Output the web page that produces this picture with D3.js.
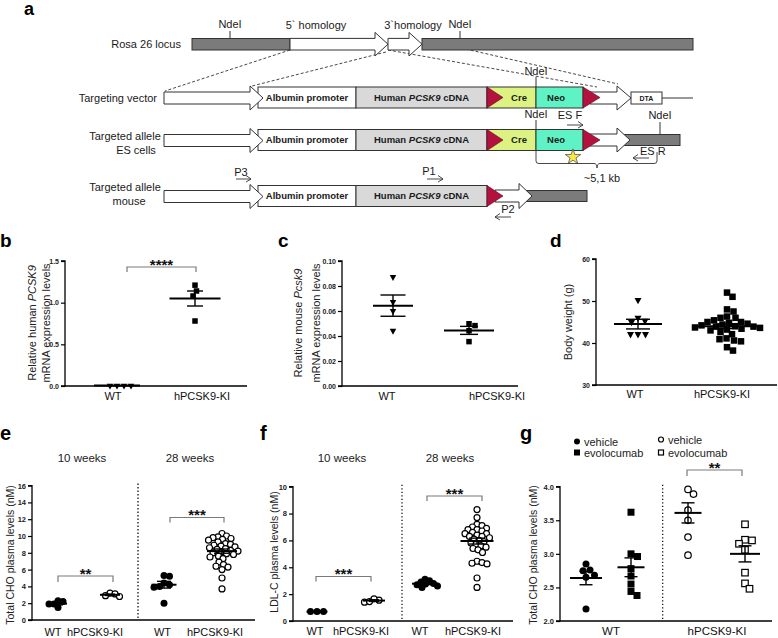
<!DOCTYPE html>
<html><head><meta charset="utf-8">
<script src="https://cdn.jsdelivr.net/npm/d3@7"></script>
<style>body{margin:0;background:#fff}svg{display:block;font-family:"Liberation Sans",Arial,Helvetica,sans-serif}</style>
</head><body><svg id="chart" width="778" height="638"></svg>
<script>
// ================= DATA =================
const bCategories = ["WT", "hPCSK9-KI"];
const bWT = [0.005, 0.005, 0.005, 0.005];
const bKI = [1.14, 1.21, 1.08, 0.78];
const bMean = [0.005, 1.05];
const bSem = [0, 0.09];
const bTicks = [0, 0.5, 1.0, 1.5];

const cCategories = ["WT", "hPCSK9-KI"];
const cWT = [0.0872, 0.0672, 0.0600, 0.0442];
const cKI = [0.0483, 0.0498, 0.0442, 0.0355];
const cMean = [0.0643, 0.0445];
const cSem = [0.0085, 0.0032];
const cTicks = [0, 0.02, 0.04, 0.06, 0.08, 0.10];

const dCategories = ["WT", "hPCSK9-KI"];
const dWT = [50.2, 46.0, 45.3, 45.0, 42.1, 42.1, 42.1];
const dKI = [52.0, 51.0, 48.0, 47.5, 46.3, 46.0, 46.0, 45.4, 45.0, 45.0, 44.8, 44.6, 44.4, 44.2, 44.0,
             43.9, 43.9, 43.7, 43.6, 43.4, 43.2, 43.0, 42.6, 42.1, 41.1, 40.9, 40.6, 40.4, 39.0, 38.2];
const dMean = [44.5, 44.0];
const dSem = [1.15, 0.55];
const dTicks = [30, 40, 50, 60];

const eWeeks = ["10 weeks", "28 weeks"];
const eCategories = ["WT", "hPCSK9-KI", "WT", "hPCSK9-KI"];
const e10WT = [2.3, 2.2, 1.9, 1.9, 1.5];
const e10KI = [3.2, 3.1, 2.9, 2.8];
const e28WT = [5.3, 5.2, 4.4, 4.2, 4.0, 3.9, 2.0];
const e28KI = [10.3, 10.0, 9.9, 9.8, 9.7, 9.6, 9.5, 9.3, 9.1, 9.0, 8.9, 8.8, 8.7, 8.6, 8.5, 8.4,
               8.3, 8.2, 8.1, 8.0, 7.9, 7.8, 7.6, 7.5, 7.3, 6.9, 6.6, 6.4, 6.3, 6.0, 5.0, 3.7];
const eMean = [1.95, 3.0, 4.2, 8.2];
const eSem = [0.15, 0.08, 0.4, 0.25];
const eTicks = [0, 2, 4, 6, 8, 10, 12, 14, 16];

const fWeeks = ["10 weeks", "28 weeks"];
const fCategories = ["WT", "hPCSK9-KI", "WT", "hPCSK9-KI"];
const f10WT = [0.7, 0.7, 0.7];
const f10KI = [1.4, 1.55, 1.65, 1.45];
const f28WT = [3.1, 3.0, 2.9, 2.8, 2.75, 2.7, 2.6, 2.5];
const f28KI = [8.3, 7.7, 7.2, 7.1, 7.0, 6.9, 6.8, 6.8, 6.7, 6.6, 6.5, 6.5, 6.4, 6.3, 6.3, 6.2,
               6.1, 6.0, 5.9, 5.8, 5.7, 5.6, 5.5, 5.4, 5.3, 5.1, 4.45, 4.35, 4.3, 4.25, 3.2, 2.5];
const fMean = [0.7, 1.52, 2.78, 5.95];
const fSem = [0.01, 0.06, 0.07, 0.22];
const fTicks = [0, 2, 4, 6, 8, 10];

const gGenotypes = ["WT", "hPCSK9-KI"];
const gTreatments = ["vehicle", "evolocumab"];
const gWTveh = [2.85, 2.76, 2.75, 2.68, 2.65, 2.18];
const gWTevo = [3.62, 3.0, 2.96, 2.78, 2.67, 2.55, 2.44, 2.38];
const gKIveh = [3.96, 3.89, 3.65, 3.5, 3.25, 2.98];
const gKIevo = [3.44, 3.21, 3.2, 3.15, 3.06, 2.72, 2.56, 2.48];
const gMean = [2.64, 2.8, 3.61, 3.0];
const gSem = [0.1, 0.14, 0.15, 0.12];
const gTicks = [2.0, 2.5, 3.0, 3.5, 4.0];

// ================= HELPERS =================
const svg = d3.select('#chart');
svg.append('rect').attr('width', 778).attr('height', 638).attr('fill', '#fff');
const TXT = '#1a1a1a';

function text(g, x, y, s, o = {}) {
  const t = g.append('text').attr('x', x).attr('y', y).attr('font-size', o.size || 11)
    .attr('text-anchor', o.anchor || 'middle').attr('fill', o.fill || TXT);
  if (o.bold) t.attr('font-weight', 'bold');
  if (Array.isArray(s)) {
    s.forEach(p => { const [str, it] = Array.isArray(p) ? p : [p, false];
      t.append('tspan').text(str).attr('font-style', it ? 'italic' : null); });
  } else t.text(s);
  return t;
}
function line(g, x1, y1, x2, y2, o = {}) {
  return g.append('line').attr('x1', x1).attr('y1', y1).attr('x2', x2).attr('y2', y2)
    .attr('stroke', o.stroke || '#000').attr('stroke-width', o.w || 1)
    .attr('stroke-dasharray', o.dash || null);
}
function panelLetter(s, x, y, size) { text(svg, x, y, s, {size: size || 19, bold: true, anchor: 'start', fill: '#000'}); }

// ================= PANEL a =================
const A = svg.append('g');
const COL = {gray: '#7b7b7b', pcsk9: '#d9d9d9', cre: '#dcf282', neo: '#5ff2c4', lox: '#b3123f', star: '#f7e84a'};
const STK = '#333';
function arrowPath(x0, x1, yc, bh, hh, hl) {
  return `M${x0},${yc - bh}H${x1 - hl}V${yc - hh}L${x1},${yc}L${x1 - hl},${yc + hh}V${yc + bh}H${x0}Z`;
}
function arrow(x0, x1, yc, bh = 6, hh = 12, hl = 13) {
  A.append('path').attr('d', arrowPath(x0, x1, yc, bh, hh, hl)).attr('fill', '#fff').attr('stroke', STK).attr('stroke-width', 1);
}
function box(x0, x1, y0, y1, fill) {
  A.append('rect').attr('x', x0).attr('y', y0).attr('width', x1 - x0).attr('height', y1 - y0)
    .attr('fill', fill).attr('stroke', STK).attr('stroke-width', 1);
}
function lox(x0, x1, y0, y1) {
  A.append('path').attr('d', `M${x0},${y0}L${x1},${(y0 + y1) / 2}L${x0},${y1}Z`).attr('fill', COL.lox).attr('stroke', '#5a0a20').attr('stroke-width', 0.6);
}
function primer(x0, x1, y) { // arrow pointing toward x1
  const dir = x1 > x0 ? 1 : -1;
  line(A, x0, y, x1, y, {stroke: '#333', w: 0.9});
  line(A, x1, y, x1 - dir * 5, y - 3.5, {stroke: '#333', w: 0.9});
  line(A, x1, y, x1 - dir * 5, y + 3, {stroke: '#333', w: 0.9});
}
function cassette(yc, full) {
  const y0 = yc - 10.5, y1 = yc + 10.5;
  box(258, 356, y0, y1, '#fff');
  text(A, 307, yc + 3.3, 'Albumin promoter', {size: 9.5, bold: true});
  box(356, 487, y0, y1, COL.pcsk9);
  text(A, 421.5, yc + 3.3, ['Human ', ['PCSK9', true], ' cDNA'], {size: 9.5, bold: true});
  if (full) {
    box(487, 536, y0, y1, COL.cre);
    text(A, 519, yc + 3.3, 'Cre', {size: 9.5, bold: true});
    box(536, 583, y0, y1, COL.neo);
    text(A, 556, yc + 3.3, 'Neo', {size: 9.5, bold: true});
  }
  arrow(164, 263, yc + 0.5);
}

panelLetter('a', 24, 15, 18);
// dashed homology lines
[[290, 50, 165, 91], [386, 52, 252, 86], [388, 50, 597, 87], [422, 39, 618, 84]].forEach(d =>
  line(A, d[0], d[1], d[2], d[3], {stroke: '#333', w: 0.9, dash: '3,2'}));

// Row 0: Rosa 26 locus
box(192, 290, 38.5, 50, COL.gray);
box(422, 693, 38.5, 50, COL.gray);
arrow(290, 388, 44.2, 5.8, 11.8, 13);
arrow(388, 422, 44.2, 5.8, 11.8, 13);
text(A, 181, 48, 'Rosa 26 locus', {anchor: 'end'});
text(A, 230, 28, 'NdeI'); line(A, 230, 31, 230, 38.5, {stroke: '#333'});
text(A, 316, 29, '5` homology');
text(A, 413, 29, '3`homology');
text(A, 460, 28, 'NdeI'); line(A, 460, 31, 460, 38.5, {stroke: '#333'});

// Row 1: targeting vector
cassette(97.5, true);
arrow(590, 631, 98, 6, 12, 14);
lox(583, 600, 87, 108); lox(487, 503, 87, 108);
box(631, 662, 92, 104, '#fff');
text(A, 646.5, 100.6, 'DTA', {size: 7, bold: true});
line(A, 662, 98, 693, 98, {stroke: '#333'});
text(A, 157, 102, 'Targeting vector', {anchor: 'end'});
text(A, 536, 75, 'NdeI'); line(A, 536, 77, 536, 87, {stroke: '#333'});

// Row 2: targeted allele ES cells
cassette(140, true);
box(617, 680, 134.5, 145.5, COL.gray);
arrow(590, 630, 140, 6, 12, 13);
lox(583, 600, 129.5, 150.5); lox(487, 503, 129.5, 150.5);
text(A, 125, 140, 'Targeted allele'); text(A, 136, 154, 'ES cells');
text(A, 536, 118, 'NdeI'); line(A, 536, 120, 536, 129.5, {stroke: '#333'});
text(A, 570, 119, 'ES F'); primer(567, 583, 125);
text(A, 660, 119, 'NdeI'); line(A, 660, 122, 660, 134.5, {stroke: '#333'});
A.append('path').attr('d', d3.symbol(d3.symbolStar, 75)()).attr('transform', 'translate(573,157)')
  .attr('fill', COL.star).attr('stroke', '#555').attr('stroke-width', 0.8);
A.append('path').attr('d', 'M536,151V161Q536,163.5 539,163.5H594Q597,163.5 597,168Q597,163.5 600,163.5H654Q657,163.5 657,161V152')
  .attr('fill', 'none').attr('stroke', '#333').attr('stroke-width', 0.9);
text(A, 602, 182, '~5,1 kb');
text(A, 640, 155, 'ES R', {anchor: 'start'}); primer(649, 633, 158);

// Row 3: targeted allele mouse
cassette(196, false);
box(519, 587, 190.5, 201.5, COL.gray);
arrow(495, 532, 196, 6, 12.5, 13);
lox(487, 503, 185.5, 206.5);
text(A, 125, 191, 'Targeted allele'); text(A, 129, 204.5, 'mouse');
text(A, 241, 176, 'P3'); primer(236, 251, 179);
text(A, 429, 175, 'P1'); primer(427, 443, 179);
text(A, 508, 213, 'P2'); primer(511, 495, 217);

// ================= DOT PLOT PANELS =================
function marker(g, shape, x, y, s) {
  if (shape === 'circle' || shape === 'circleOpen') {
    g.append('circle').attr('cx', x).attr('cy', y).attr('r', shape === 'circle' ? s / 2 : s / 2 - 0.5)
      .attr('fill', shape === 'circle' ? '#000' : '#fff').attr('stroke', '#000').attr('stroke-width', shape === 'circle' ? 0 : 1.2);
  } else if (shape === 'square' || shape === 'squareOpen') {
    const o = shape === 'square' ? s / 2 : s / 2 - 0.5;
    g.append('rect').attr('x', x - o).attr('y', y - o).attr('width', 2 * o).attr('height', 2 * o)
      .attr('fill', shape === 'square' ? '#000' : '#fff').attr('stroke', '#000').attr('stroke-width', shape === 'square' ? 0 : 1.2);
  } else if (shape === 'triDown') {
    const h = s * 0.9;
    g.append('path').attr('d', `M${x - s / 2},${y - h / 3}L${x + s / 2},${y - h / 3}L${x},${y + 2 * h / 3}Z`).attr('fill', '#000');
  }
}
function swarm(vals, y, dist) {
  const order = d3.range(vals.length).sort((a, b) => d3.descending(vals[a], vals[b]));
  const placed = [], off = new Array(vals.length);
  order.forEach(i => {
    const yy = y(vals[i]);
    for (let k = 0; k < 400; k++) {
      const o = (k % 2 ? 1 : -1) * Math.ceil(k / 2) * 0.5;
      if (placed.every(p => (p.x - o) ** 2 + (p.y - yy) ** 2 >= dist * dist)) {
        placed.push({x: o, y: yy}); off[i] = o; break;
      }
    }
  });
  return off;
}
function dotPanel(cfg) {
  const g = svg.append('g');
  const y = d3.scaleLinear().domain(cfg.domain).range(cfg.range);
  const gx = d3.scaleOrdinal(d3.range(cfg.groups.length), cfg.groupX);
  // axes
  const yAxis = d3.axisLeft(y).tickValues(cfg.ticks).tickFormat(cfg.fmt).tickSize(4).tickPadding(2);
  const ya = g.append('g').attr('transform', `translate(${cfg.axisX},0)`).call(yAxis);
  ya.select('.domain').attr('stroke-width', 1.3).attr('d', `M-4,${cfg.range[0]}H0V${cfg.range[1]}H-4`);
  ya.selectAll('.tick line').attr('stroke-width', 1.2);
  ya.selectAll('.tick text').attr('font-size', cfg.tickFont).attr('font-weight', 'bold').attr('fill', '#222')
    .attr('font-family', '"Liberation Sans",Arial,sans-serif');
  line(g, cfg.axisX, cfg.range[0], cfg.xEnd, cfg.range[0], {w: 1.3});
  (cfg.dividers || []).forEach(dx => line(g, dx, cfg.range[1] - 2, dx, cfg.range[0], {w: 1.2, dash: '1.3,2.2'}));
  // points
  cfg.groups.forEach((gr, i) => {
    const off = swarm(gr.vals, y, gr.dist);
    gr.vals.forEach((v, j) => marker(g, gr.shape, gx(i) + off[j], y(v), gr.size));
  });
  // mean & sem
  cfg.groups.forEach((gr, i) => {
    const cx = gx(i), m = cfg.mean[i], s = cfg.sem[i];
    if (s > 0) {
      line(g, cx, y(m - s), cx, y(m + s), {w: 1.4});
      line(g, cx - gr.sw / 2, y(m + s), cx + gr.sw / 2, y(m + s), {w: 1.4});
      line(g, cx - gr.sw / 2, y(m - s), cx + gr.sw / 2, y(m - s), {w: 1.4});
    }
    line(g, cx - gr.mw / 2, y(m), cx + gr.mw / 2, y(m), {w: 2});
  });
  // category labels
  cfg.labels.forEach((t, i) => text(g, cfg.labelX[i], cfg.labelY, t, {size: cfg.labelFont, fill: '#111'}));
  // y label
  cfg.ylabel.lines.forEach((ln, i) => {
    text(g, 0, 0, ln, {size: cfg.ylabel.size, fill: '#222'})
      .attr('transform', `translate(${cfg.ylabel.xs[i]},${cfg.ylabel.cy}) rotate(-90)`);
  });
  // brackets
  (cfg.brackets || []).forEach(b => {
    g.append('path').attr('d', `M${b.x1},${b.y + b.drop}V${b.y}H${b.x2}V${b.y + b.drop}`)
      .attr('fill', 'none').attr('stroke', '#7a7a7a').attr('stroke-width', 1.2);
    text(g, (b.x1 + b.x2) / 2, b.y + 2.5, b.t, {size: 15, bold: true, fill: '#111'});
  });
  (cfg.weeks || []).forEach(w => text(g, w.x, w.y, w.t, {size: 11.5, fill: '#222'}));
  return {g, y};
}

// b
panelLetter('b', 0, 247);
dotPanel({
  domain: [0, 1.5], range: [386, 261], ticks: bTicks, fmt: d3.format('.1f'), tickFont: 7,
  axisX: 65, xEnd: 247, groupX: [117, 195],
  groups: [{vals: bWT, shape: 'triDown', size: 6.5, dist: 7, mw: 46, sw: 0},
           {vals: bKI, shape: 'square', size: 5.5, dist: 6, mw: 51, sw: 16}],
  mean: bMean, sem: bSem,
  labels: bCategories, labelX: [113, 202], labelY: 400, labelFont: 11,
  ylabel: {lines: [['Relative human ', ['PCSK9', true]], ['mRNA expression levels']], xs: [36, 49.5], cy: 323, size: 11},
  brackets: [{x1: 127, x2: 196, y: 267, drop: 5, t: '****'}]
});

// c
panelLetter('c', 278, 247);
dotPanel({
  domain: [0, 0.10], range: [386, 261], ticks: cTicks, fmt: d3.format('.2f'), tickFont: 7,
  axisX: 342, xEnd: 518, groupX: [393, 469],
  groups: [{vals: cWT, shape: 'triDown', size: 6.5, dist: 6, mw: 40, sw: 25},
           {vals: cKI, shape: 'square', size: 5.5, dist: 6, mw: 50, sw: 18}],
  mean: cMean, sem: cSem,
  labels: cCategories, labelX: [387, 497], labelY: 400, labelFont: 11,
  ylabel: {lines: [['Relative mouse ', ['Pcsk9', true]], ['mRNA expression levels']], xs: [302, 320], cy: 323, size: 11}
});

// d
panelLetter('d', 550, 247);
dotPanel({
  domain: [30, 60], range: [385, 259], ticks: dTicks, fmt: d3.format('d'), tickFont: 7,
  axisX: 596, xEnd: 777, groupX: [638, 727],
  groups: [{vals: dWT, shape: 'triDown', size: 7, dist: 7.5, mw: 48, sw: 24},
           {vals: dKI, shape: 'square', size: 6.5, dist: 6.6, mw: 69, sw: 22}],
  mean: dMean, sem: dSem,
  labels: dCategories, labelX: [635, 722], labelY: 398, labelFont: 11,
  ylabel: {lines: [['Body weight (g)']], xs: [572], cy: 322, size: 11}
});

// e
panelLetter('e', 0, 440, 20);
dotPanel({
  domain: [0, 16], range: [620, 485.6], ticks: eTicks, fmt: d3.format('d'), tickFont: 7.5,
  axisX: 32, xEnd: 255, groupX: [58, 110, 164, 222], dividers: [138],
  groups: [{vals: e10WT, shape: 'circle', size: 7, dist: 5, mw: 18, sw: 10},
           {vals: e10KI, shape: 'circleOpen', size: 7, dist: 5, mw: 20, sw: 10},
           {vals: e28WT, shape: 'circle', size: 7, dist: 5.5, mw: 25, sw: 14},
           {vals: e28KI, shape: 'circleOpen', size: 7, dist: 5, mw: 30, sw: 16}],
  mean: eMean, sem: eSem,
  labels: eCategories, labelX: [53, 95, 162.5, 215], labelY: 636, labelFont: 11,
  ylabel: {lines: [['Total CHO plasma levels (nM)']], xs: [14], cy: 555, size: 10.5},
  brackets: [{x1: 58, x2: 113, y: 576, drop: 6, t: '**'}, {x1: 170, x2: 224, y: 517.5, drop: 5, t: '***'}],
  weeks: [{t: eWeeks[0], x: 82, y: 462}, {t: eWeeks[1], x: 190, y: 462}]
});

// f
panelLetter('f', 260, 440, 20);
dotPanel({
  domain: [0, 10], range: [621, 486.7], ticks: fTicks, fmt: d3.format('d'), tickFont: 7.5,
  axisX: 293, xEnd: 513, groupX: [317, 374, 425, 477], dividers: [402],
  groups: [{vals: f10WT, shape: 'circle', size: 7, dist: 6.5, mw: 21, sw: 10},
           {vals: f10KI, shape: 'circleOpen', size: 7, dist: 5, mw: 22, sw: 10},
           {vals: f28WT, shape: 'circle', size: 7, dist: 4.6, mw: 26, sw: 14},
           {vals: f28KI, shape: 'circleOpen', size: 7, dist: 5, mw: 33, sw: 16}],
  mean: fMean, sem: fSem,
  labels: fCategories, labelX: [315, 361, 420, 473], labelY: 635, labelFont: 11,
  ylabel: {lines: [['LDL-C plasma levels (nM)']], xs: [278], cy: 552, size: 10.5},
  brackets: [{x1: 316, x2: 371, y: 576.5, drop: 5, t: '***'}, {x1: 427, x2: 482, y: 496, drop: 5, t: '***'}],
  weeks: [{t: fWeeks[0], x: 342, y: 462}, {t: fWeeks[1], x: 450, y: 462}]
});

// g
panelLetter('g', 520, 440, 20);
dotPanel({
  domain: [2.0, 4.0], range: [621, 486.7], ticks: gTicks, fmt: d3.format('.1f'), tickFont: 7.5,
  axisX: 560, xEnd: 772, groupX: [586, 631, 688, 745], dividers: [662.7],
  groups: [{vals: gWTveh, shape: 'circle', size: 7, dist: 7, mw: 32, sw: 13},
           {vals: gWTevo, shape: 'square', size: 7, dist: 7, mw: 27, sw: 13},
           {vals: gKIveh, shape: 'circleOpen', size: 7.5, dist: 7, mw: 27, sw: 13},
           {vals: gKIevo, shape: 'squareOpen', size: 7.5, dist: 7, mw: 30, sw: 13}],
  mean: gMean, sem: gSem,
  labels: gGenotypes, labelX: [611, 717], labelY: 635, labelFont: 11.5,
  ylabel: {lines: [['Total CHO plasma levels (nM)']], xs: [537], cy: 555, size: 10.5},
  brackets: [{x1: 687, x2: 742, y: 470, drop: 6, t: '**'}]
});
// legend g
const L = svg.append('g');
const legend = [
  {shape: 'circle', t: gTreatments[0], x: 577, y: 441.5},
  {shape: 'square', t: gTreatments[1], x: 577, y: 452.5},
  {shape: 'circleOpen', t: gTreatments[0], x: 661, y: 439.5},
  {shape: 'squareOpen', t: gTreatments[1], x: 661, y: 452.5}
];
legend.forEach(d => { marker(L, d.shape, d.x, d.y, 6);
  text(L, d.x + 7, d.y + 4, d.t, {size: 11, anchor: 'start', fill: '#222'}); });
</script>
</body></html>
